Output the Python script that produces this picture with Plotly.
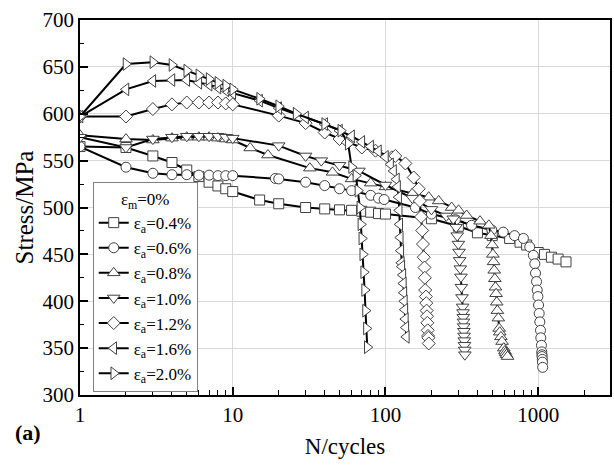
import plotly.graph_objects as go

# ---- data (N in cycles, S in MPa) ----
n_04 = [1, 2, 3, 4, 5, 6, 7, 8, 9, 10, 15, 20, 30, 40, 50, 60, 70, 80, 90, 100,
        200, 300, 400, 500, 650, 760, 840, 1000, 1100, 1220, 1350, 1520]
s_04 = [565, 564, 555, 548, 540, 533, 527, 523, 520, 517, 508, 504, 500, 498.5, 497.5, 497, 496, 495, 493.5, 493,
        488, 480, 473, 470, 467, 463, 460, 452, 450, 447, 445, 442]

n_06 = [1, 2, 3, 4, 5, 6, 7, 8, 9, 10, 19, 20, 30, 40, 50, 60, 80, 90, 98,
        157, 200, 287, 366, 497, 590, 700, 800, 880, 930, 950, 960, 975, 985, 995,
        1005, 1015, 1025, 1035, 1040, 1050, 1055, 1058, 1060, 1063, 1066, 1070]
s_06 = [565, 543, 536.5, 535, 535, 534.5, 534.5, 534, 534, 534, 531, 530.5, 527, 523.4, 520, 518, 513, 510, 508.5,
        500, 493, 487, 481, 476, 473.7, 470, 467, 458, 449, 440, 430, 421, 412, 405,
        396, 387, 378, 369, 361, 353, 346, 343, 341, 338, 335, 329.5]

n_08 = [1, 2, 3, 4, 5, 6, 7, 8, 9, 10, 13, 17, 32, 45, 60, 80, 100, 150, 192, 223, 271, 301, 340, 416, 475,
        490, 500, 505, 510, 515, 520, 525, 530, 535, 540, 548, 555, 560, 570, 580, 595, 605, 612, 620, 630]
s_08 = [577, 573, 572, 574, 575, 575, 575, 574, 573, 572, 563.5, 556, 542, 537.5, 530.5, 526, 522, 515, 511, 507, 500, 497, 491.5, 485.4, 481,
        470, 460, 450, 442, 433, 424, 415, 408, 399, 390, 382, 371, 367, 362, 357, 350, 347, 345, 343, 341]

n_10 = [1, 2, 3, 4, 5, 6, 7, 8, 9, 10, 20, 30, 38, 50, 67, 100, 150, 200, 250, 278,
        290, 295, 300, 303, 306, 309, 312, 314, 317, 320, 322, 323, 324, 325, 326, 327, 328, 329, 330, 331]
s_10 = [575, 564, 573, 575, 576, 576, 576, 576, 575, 574, 566, 555, 550, 545, 539, 524, 510, 498, 491, 488,
        479, 470, 461, 452.5, 443.6, 434.8, 426, 415, 404, 394, 388, 383, 378, 373, 368, 363, 358, 353, 348, 343]

n_12 = [1, 2, 3, 4, 5, 6, 7, 8, 9, 10, 20, 30, 40, 50, 57, 70, 86, 110, 116, 135, 153, 165,
        168, 171, 174, 176, 178, 180, 181, 182, 184, 185, 186, 187, 188, 189, 190, 191, 192]
s_12 = [597, 597, 605, 610, 612, 612, 612, 612, 611, 610, 598, 590, 580, 573, 569.5, 564, 560.6, 553.5, 555, 547, 532, 520,
        507, 490, 475.5, 461, 447, 436, 425, 412, 405, 398, 390, 384, 377, 369, 363, 361, 355]

n_16 = [1, 2, 3, 4, 5, 6, 7, 8, 9, 10, 15, 20, 30, 40, 50, 60, 70, 80, 90, 100, 108, 113, 118, 120,
        122, 123, 124, 125, 126, 127, 128, 130, 131, 132, 133, 134, 135, 136, 137]
s_16 = [597, 626, 635, 636, 636, 633, 631, 628, 625, 622, 614, 606, 596, 589, 582, 576, 570, 565, 560, 554, 546, 539, 530, 522,
        511, 497, 482, 468, 454, 441, 437, 428, 419, 409, 400, 391, 381, 372, 362]

n_20 = [1, 2, 3, 4, 5, 6, 7, 8, 9, 10, 15, 20, 26, 40, 51, 57, 60, 64, 66, 68, 69, 70, 71, 72, 73, 74, 75, 76]
s_20 = [597, 653, 655, 652, 646, 641, 637, 633, 630, 626, 616, 608, 600, 589, 582, 568, 543, 534, 518, 500, 482, 467, 450, 431, 412, 390, 371, 351]

labels = ["ε<sub>a</sub>=0.4%", "ε<sub>a</sub>=0.6%", "ε<sub>a</sub>=0.8%", "ε<sub>a</sub>=1.0%",
          "ε<sub>a</sub>=1.2%", "ε<sub>a</sub>=1.6%", "ε<sub>a</sub>=2.0%"]
symbols = ["square", "circle", "triangle-up", "triangle-down", "diamond", "triangle-left", "triangle-right"]
series_n = [n_04, n_06, n_08, n_10, n_12, n_16, n_20]
series_s = [s_04, s_06, s_08, s_10, s_12, s_16, s_20]

y_ticks = [300, 350, 400, 450, 500, 550, 600, 650, 700]
x_ticks = [1, 10, 100, 1000]

FONT = "Times New Roman, Liberation Serif, DejaVu Serif, serif"

fig = go.Figure()
for n, s, lab, sym in zip(series_n, series_s, labels, symbols):
    size = 10 if sym in ("square", "circle", "diamond") else 11
    fig.add_trace(go.Scatter(
        x=n, y=s, name=lab, mode="lines+markers",
        line=dict(color="black", width=2),
        marker=dict(symbol=sym, size=size, color="white",
                    line=dict(color="#404040", width=1)),
    ))

fig.update_layout(
    width=614, height=466,
    margin=dict(l=80, r=2, t=20, b=71),
    paper_bgcolor="white", plot_bgcolor="white",
    font=dict(family=FONT, size=21, color="black"),
    showlegend=True,
    legend=dict(
        x=0.024, y=0.008, xanchor="left", yanchor="bottom",
        bgcolor="white", bordercolor="#808080", borderwidth=1,
        font=dict(family=FONT, size=17, color="black"),
        title=dict(text="ε<sub>m</sub>=0%", side="top center",
                   font=dict(family=FONT, size=17, color="black")),
        tracegroupgap=0,
    ),
    annotations=[dict(text="<b>(a)</b>", x=-67/532, y=-(432-395)/375,
                      xref="paper", yref="paper",
                      showarrow=False, font=dict(family=FONT, size=22, color="black"),
                      xanchor="left", yanchor="middle")],
)

fig.update_xaxes(
    type="log", range=[0, 3.47],
    tickvals=x_ticks, ticktext=[str(v) for v in x_ticks],
    ticks="inside", ticklen=8, tickwidth=1.5, tickcolor="black",
    minor=dict(ticks="inside", ticklen=5, tickwidth=1, tickcolor="black",
               dtick="D1", showgrid=False),
    showgrid=True, gridcolor="#d9d9d9", gridwidth=1,
    showline=True, linecolor="black", linewidth=1.5, mirror=True,
    title=dict(text="N/cycles", font=dict(family=FONT, size=23), standoff=12),
    tickfont=dict(family=FONT, size=21),
    zeroline=False,
)
fig.update_yaxes(
    range=[300, 700], tickvals=y_ticks,
    ticks="inside", ticklen=8, tickwidth=1.5, tickcolor="black",
    minor=dict(ticks="inside", ticklen=4, tickwidth=1, tickcolor="black",
               dtick=25, showgrid=False),
    showgrid=True, gridcolor="#d9d9d9", gridwidth=1,
    showline=True, linecolor="black", linewidth=1.5, mirror=True,
    title=dict(text="Stress/MPa", font=dict(family=FONT, size=25), standoff=2),
    tickfont=dict(family=FONT, size=21),
    zeroline=False,
)

fig.write_html("out.html")
